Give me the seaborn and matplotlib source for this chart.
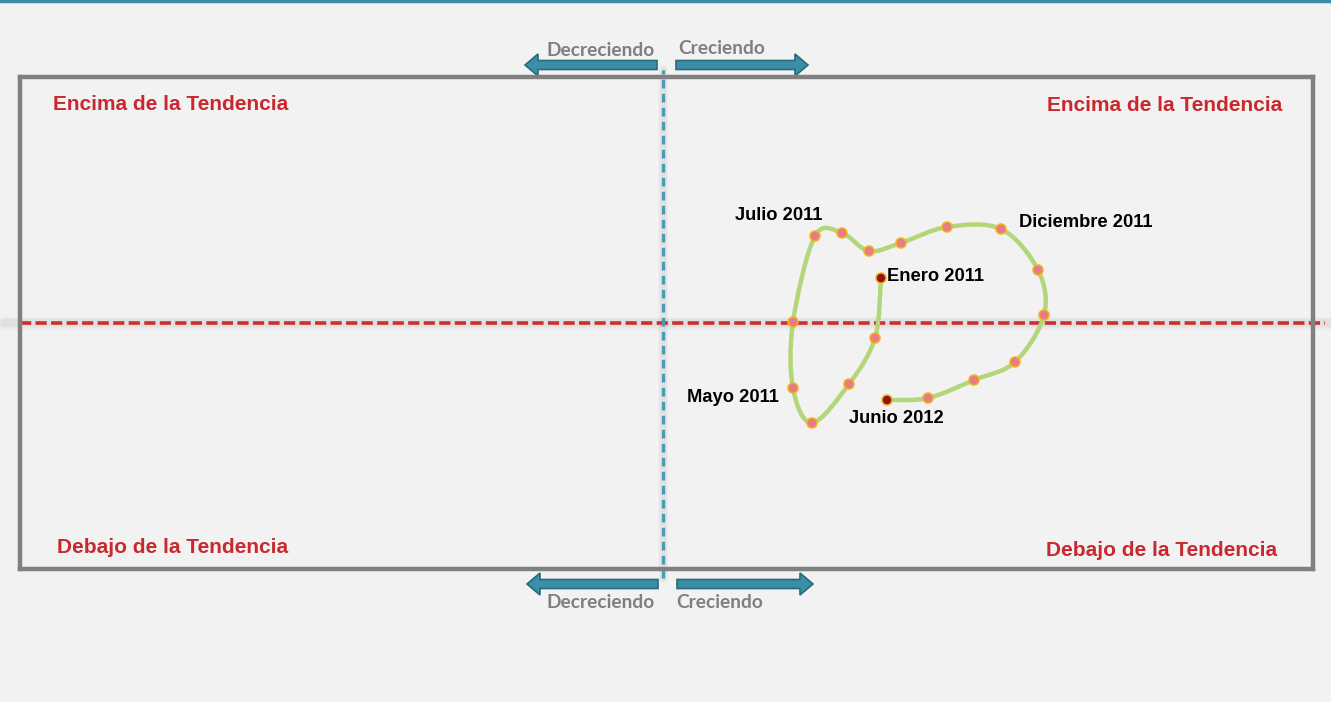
import numpy as np
import pandas as pd
import matplotlib
matplotlib.use("Agg")
import matplotlib.pyplot as plt
import seaborn as sns
from matplotlib.path import Path
from matplotlib.patches import PathPatch, FancyArrow

# Datos del ciclo (crecimiento vs. desviacion de la tendencia), Ene 2011 - Jun 2012
meses = ["Ene 2011", "Feb 2011", "Mar 2011", "Abr 2011", "May 2011", "Jun 2011",
         "Jul 2011", "Ago 2011", "Sep 2011", "Oct 2011", "Nov 2011", "Dic 2011",
         "Ene 2012", "Feb 2012", "Mar 2012", "Abr 2012", "May 2012", "Jun 2012"]
crecimiento = [2.18, 2.12, 1.86, 1.49, 1.30, 1.30, 1.52, 1.79, 2.06, 2.38, 2.84, 3.38,
               3.75, 3.81, 3.52, 3.11, 2.65, 2.24]
desviacion = [0.45, -0.15, -0.61, -1.00, -0.65, 0.01, 0.87, 0.90, 0.72, 0.80, 0.96, 0.94,
              0.53, 0.08, -0.39, -0.57, -0.75, -0.77]
etiquetas = {0: "Enero 2011", 4: "Mayo 2011", 6: "Julio 2011",
             11: "Diciembre 2011", 17: "Junio 2012"}

cuadrantes = ["Encima de la Tendencia", "Encima de la Tendencia",
              "Debajo de la Tendencia", "Debajo de la Tendencia"]

df = pd.DataFrame({"mes": meses, "crecimiento": crecimiento, "desviacion": desviacion})
df["tipo"] = ["extremo" if i in (0, len(df) - 1) else "medio" for i in range(len(df))]

sns.set_theme(style="white")
plt.rcParams["font.family"] = ["Liberation Sans", "DejaVu Sans"]

BG = "#f2f2f2"
TEAL = "#3a8ea6"
RED = "#c9282e"
GRAY = "#808080"

fig = plt.figure(figsize=(13.31, 7.02), dpi=100, facecolor=BG)

# capa de decoracion en pixeles
deco = fig.add_axes([0, 0, 1, 1], zorder=0)
deco.set_xlim(0, 1331)
deco.set_ylim(702, 0)
deco.axis("off")
deco.add_line(plt.Line2D([0, 1331], [1, 1], color=TEAL, lw=2.5))

# ejes principales (caja)
W, H = 1331, 702
x0, x1, y0, y1 = 20, 1313, 77, 569
ax = fig.add_axes([x0 / W, (H - y1) / H, (x1 - x0) / W, (y1 - y0) / H], zorder=2)
ax.set_facecolor(BG)
ax.patch.set_alpha(0)
ax.set_xlim(-6.43, 6.50)
ax.set_ylim(-2.46, 2.46)
ax.set_xticks([])
ax.set_yticks([])
for s in ax.spines.values():
    s.set_color(GRAY)
    s.set_linewidth(3.2)

# linea de tendencia (horizontal) con sombra suave
for lw_, a_ in [(9, 0.08), (6, 0.12)]:
    ax.axhline(0, xmin=-0.012, xmax=1.014, color="#9a9a9a", lw=lw_, alpha=a_,
               clip_on=False, zorder=1)
ax.axhline(0, xmin=0.0, xmax=1.009, color="#cc2f2f", lw=2.6, dashes=(3.1, 1.2),
           clip_on=False, zorder=2)
# linea de crecimiento cero (vertical)
for lw_, a_ in [(7, 0.07), (5, 0.1)]:
    ax.axvline(0, ymin=-0.018, ymax=1.014, color="#9a9a9a", lw=lw_, alpha=a_,
               clip_on=False, zorder=1)
ax.axvline(0, ymin=-0.018, ymax=1.014, color="#4a9ab0", lw=2.4, dashes=(2.6, 1.6),
           clip_on=False, zorder=2)

# curva suave (Bezier) por los puntos
pts = np.column_stack([crecimiento, desviacion])
ext = np.vstack([pts[0], pts, pts[-1]])
verts = [pts[0]]
codes = [Path.MOVETO]
for i in range(len(pts) - 1):
    p0, p1, p2, p3 = ext[i], ext[i + 1], ext[i + 2], ext[i + 3]
    verts += [p1 + (p2 - p0) / 6, p2 - (p3 - p1) / 6, p2]
    codes += [Path.CURVE4] * 3
ax.add_patch(PathPatch(Path(verts, codes), fill=False, edgecolor="#b3d678", lw=3.2,
                       capstyle="round", zorder=3))

sns.scatterplot(data=df, x="crecimiento", y="desviacion", hue="tipo",
                palette={"medio": "#e57d86", "extremo": "#8e1616"},
                s=52, edgecolor="#f7b21b", linewidth=1.1, legend=False, zorder=4, ax=ax)
ax.set_xlabel("")
ax.set_ylabel("")

offsets = {0: ((4, 1), "left"), 4: ((-10, -6.5), "right"), 6: ((-26.5, 14.5), "center"),
           11: ((13, 5), "left"), 17: ((7, -13), "center")}
for i, txt in etiquetas.items():
    off, ha = offsets[i]
    ax.annotate(txt, (crecimiento[i], desviacion[i]), xytext=off, textcoords="offset points",
                ha=ha, va="center", fontsize=13.2, fontweight="bold", color="black", zorder=5)

# etiquetas de cuadrantes
qpos = [(0.0255, 0.945, "left"), (0.976, 0.943, "right"),
        (0.0286, 0.043, "left"), (0.972, 0.037, "right")]
for txt, (qx, qy, ha) in zip(cuadrantes, qpos):
    ax.text(qx, qy, txt, transform=ax.transAxes, ha=ha, va="center",
            fontsize=15, fontweight="bold", color=RED)

# flechas de direccion
def flecha(xa, xb, y):
    deco.add_patch(FancyArrow(xa, y, xb - xa, 0, width=9, head_width=22, head_length=13,
                              length_includes_head=True, facecolor="#3a8fa7",
                              edgecolor="#2a6a7c", lw=1.2))

flecha(657, 525, 65)
flecha(676, 808, 65)
flecha(658, 527, 584)
flecha(677, 813, 584)

lab = dict(fontsize=13.8, fontweight="bold", color="#7f7f7f",
           family=["Lato", "DejaVu Sans"], va="center")
deco.text(601, 51, "Decreciendo", ha="center", **lab)
deco.text(722, 48, "Creciendo", ha="center", **lab)
deco.text(601, 603, "Decreciendo", ha="center", **lab)
deco.text(720, 603, "Creciendo", ha="center", **lab)

fig.savefig("out.png", dpi=100, facecolor=BG)
